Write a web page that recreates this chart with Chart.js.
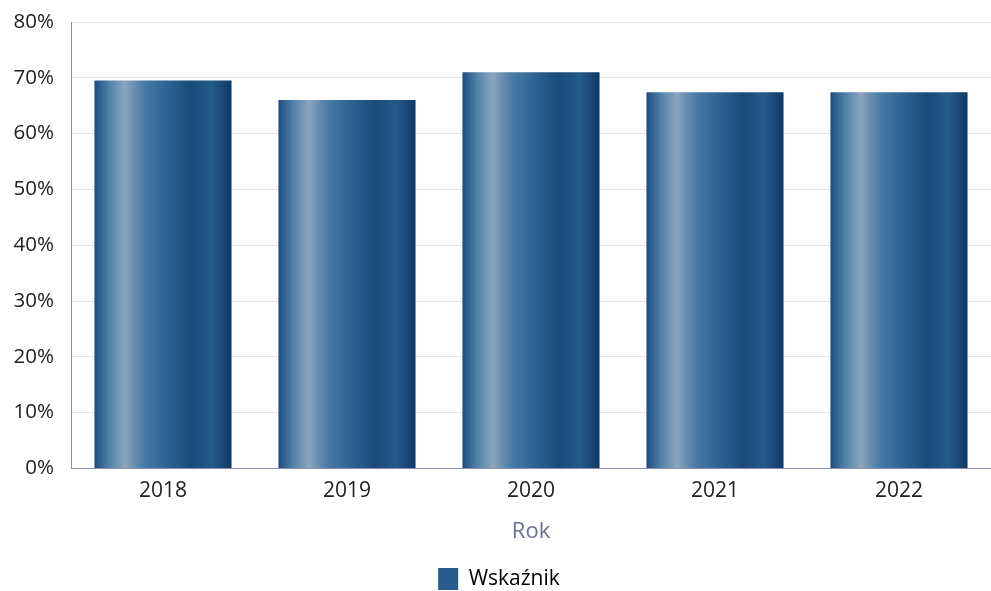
<!DOCTYPE html>
<html>
<head>
<meta charset="utf-8">
<script src="https://cdn.jsdelivr.net/npm/chart.js@4/dist/chart.umd.min.js"></script>
<style>
  html, body { margin: 0; padding: 0; background: #fff; }
  #wrap { width: 991px; height: 591px; }
</style>
</head>
<body>
<div id="wrap"><canvas id="chart"></canvas></div>
<script>
const years = ['2018', '2019', '2020', '2021', '2022'];
const values = [69.5, 66.0, 71.0, 67.4, 67.4];
const yTicks = [0, 10, 20, 30, 40, 50, 60, 70, 80];
const seriesName = 'Wskaźnik';
const axisTitle = 'Rok';

const BAR_PCT = 0.745;

// horizontal shading for each bar, dark edges and a light band left of centre
const barFill = (ctx) => {
    const chart = ctx.chart;
    if (!chart.chartArea || !chart.scales.x) return '#2a5f8f';
    const xs = chart.scales.x;
    const cx = xs.getPixelForValue(ctx.dataIndex);
    const w = (xs.width / years.length) * BAR_PCT;
    const g = chart.ctx.createLinearGradient(cx - w / 2, 0, cx + w / 2, 0);
    g.addColorStop(0, '#1b4b7c');
    g.addColorStop(0.1, '#4f7ea8');
    g.addColorStop(0.22, '#8ba5c0');
    g.addColorStop(0.36, '#4a7aa6');
    g.addColorStop(0.52, '#2c6595');
    g.addColorStop(0.7, '#1a4b7c');
    g.addColorStop(0.86, '#245a8b');
    g.addColorStop(1, '#113865');
    return g;
};

new Chart(document.getElementById('chart'), {
    type: 'bar',
    data: {
        labels: years,
        datasets: [{
            label: seriesName,
            data: values,
            backgroundColor: barFill,
            borderWidth: 0,
            barPercentage: BAR_PCT,
            categoryPercentage: 1
        }]
    },
    options: {
        responsive: true,
        maintainAspectRatio: false,
        animation: false,
        layout: { padding: { top: 22, right: -7, left: 0, bottom: -9 } },
        plugins: {
            tooltip: { enabled: false },
            legend: {
                position: 'bottom',
                labels: {
                    font: { family: 'Open Sans', size: 21 },
                    color: '#222',
                    boxWidth: 20,
                    boxHeight: 22,
                    padding: 1,
                    generateLabels: () => [{
                        text: seriesName,
                        fillStyle: '#275c8c',
                        strokeStyle: '#275c8c',
                        lineWidth: 0
                    }]
                }
            }
        },
        scales: {
            x: {
                grid: { display: false, drawTicks: false },
                border: { display: true, color: '#8a8fa6', width: 1 },
                afterFit: (axis) => {
                    axis.height -= 3;
                    axis.paddingLeft = 0;
                    axis.paddingRight = 0;
                },
                ticks: {
                    color: '#222',
                    font: { family: 'Open Sans', size: 21 },
                    padding: 10
                },
                title: {
                    display: true,
                    text: axisTitle,
                    color: '#6c7191',
                    font: { family: 'Open Sans', size: 22 },
                    padding: { top: 8, bottom: 22 }
                }
            },
            y: {
                min: 0,
                max: 80,
                afterBuildTicks: (axis) => {
                    axis.ticks = yTicks.map(v => ({ value: v }));
                },
                afterFit: (axis) => {
                    axis.width = 71;
                    axis.paddingTop = 0;
                    axis.paddingBottom = 0;
                },
                grid: {
                    color: '#e4e4e4',
                    drawTicks: false,
                    lineWidth: 1
                },
                border: { display: true, color: '#8a8fa6', width: 1, dash: [] },
                ticks: {
                    color: '#222',
                    font: { family: 'Open Sans', size: 20.5 },
                    padding: 17,
                    callback: (v) => v + '%'
                }
            }
        }
    }
});
</script>
</body>
</html>
